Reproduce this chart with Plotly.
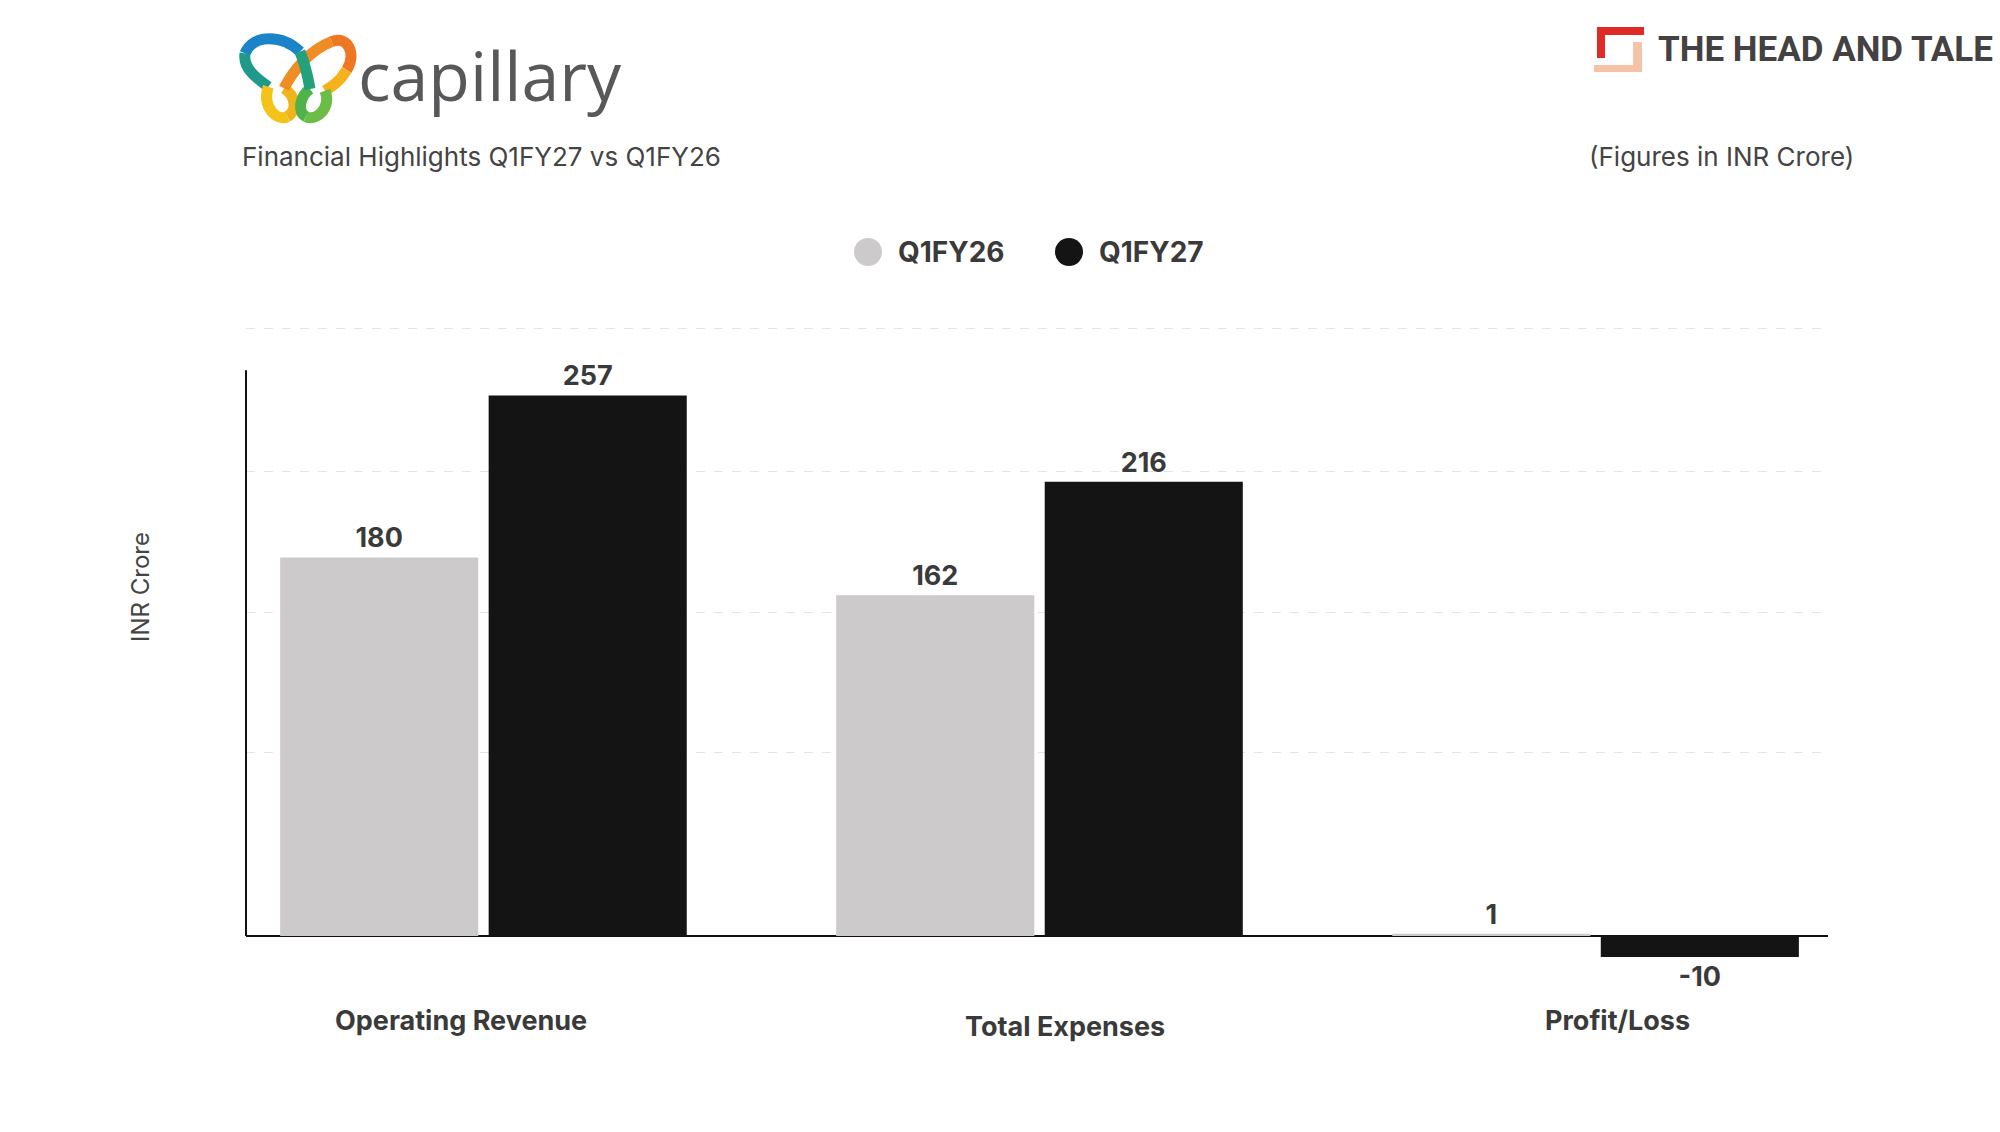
import plotly.graph_objects as go

# Data
categories = ["Operating Revenue", "Total Expenses", "Profit/Loss"]
series_names = ["Q1FY26", "Q1FY27"]
q1fy26 = [180, 162, 1]
q1fy27 = [257, 216, -10]
grid_vals = [87, 154, 221, 289]

bar_colors = ["#cccaca", "#141414"]
text_color = "#3a3a3a"

# Figure geometry (pixels)
W, H = 2000, 1132
ML, MR, MT, MB = 246, 172, 305, 154
PW, PH = W - ML - MR, H - MT - MB


def px_x(v):
    return (v - ML) / PW


def px_y(v):
    return (H - MB - v) / PH


fig = go.Figure()
for name, vals, col in zip(series_names, [q1fy26, q1fy27], bar_colors):
    fig.add_trace(go.Bar(
        x=categories, y=vals, name=name,
        marker=dict(color=col, line=dict(width=0)),
        text=[str(v) for v in vals], texttemplate="%{text}", textposition="outside",
        textfont=dict(family="Inter", size=27, color=text_color, weight=700),
        cliponaxis=False, showlegend=False,
    ))

shapes = []
annotations = []

# y axis line (shorter than plot area, as in the original)
shapes.append(dict(type="line", xref="paper", yref="y", x0=0, x1=0, y0=0, y1=269,
                   line=dict(color="#111111", width=2)))

# legend: circles + labels
for name, col, cx in zip(series_names, bar_colors, [868, 1069]):
    shapes.append(dict(type="circle", xref="paper", yref="paper",
                       xsizemode="pixel", ysizemode="pixel",
                       xanchor=px_x(cx), yanchor=px_y(252),
                       x0=-14, x1=14, y0=-14, y1=14,
                       fillcolor=col, line=dict(width=0)))
    annotations.append(dict(text=name, xref="paper", yref="paper",
                            x=px_x(cx + 28), y=px_y(252), xanchor="left", yanchor="middle",
                            showarrow=False,
                            font=dict(family="Inter", size=28, color=text_color, weight=700)))

# category labels (slightly offset like the original)
for cat, dx, py in zip(categories, [-22, 25, 22], [1020, 1026, 1020]):
    annotations.append(dict(text=cat, xref="x", yref="paper", x=cat, xshift=dx,
                            y=px_y(py), yanchor="middle", showarrow=False,
                            font=dict(family="Inter", size=27, color=text_color, weight=700)))

# y axis title
annotations.append(dict(text="INR Crore", xref="paper", yref="paper",
                        x=px_x(140), y=px_y(587), xanchor="center", yanchor="middle",
                        textangle=-90, showarrow=False,
                        font=dict(family="Inter", size=24, color="#444444")))

# header texts
annotations.append(dict(text="capillary", xref="paper", yref="paper",
                        x=px_x(356), y=px_y(74), xanchor="left", yanchor="middle",
                        showarrow=False,
                        font=dict(family="Open Sans", size=68, color="#58585a")))
annotations.append(dict(text="Financial Highlights Q1FY27 vs Q1FY26", xref="paper", yref="paper",
                        x=px_x(240), y=px_y(157), xanchor="left", yanchor="middle",
                        showarrow=False,
                        font=dict(family="Inter", size=26, color="#444444")))
annotations.append(dict(text="(Figures in INR Crore)", xref="paper", yref="paper",
                        x=px_x(1856), y=px_y(157), xanchor="right", yanchor="middle",
                        showarrow=False,
                        font=dict(family="Inter", size=26, color="#444444")))
annotations.append(dict(text="THE HEAD AND TALE", xref="paper", yref="paper",
                        x=px_x(1656), y=px_y(49), xanchor="left", yanchor="middle",
                        showarrow=False,
                        font=dict(family="Roboto", size=35, color="#444142", weight=700)))


def poly(points):
    return "M " + " L ".join(f"{px_x(x):.5f},{px_y(y):.5f}" for x, y in points) + " Z"


# head and tale brand mark
shapes.append(dict(type="path", xref="paper", yref="paper", line=dict(width=0),
                   fillcolor="#e02a26",
                   path=poly([(1597, 27), (1644, 27), (1644, 35), (1605, 35), (1605, 58), (1597, 58)])))
shapes.append(dict(type="path", xref="paper", yref="paper", line=dict(width=0),
                   fillcolor="#f4c3a8",
                   path=poly([(1633, 42), (1642, 42), (1642, 72), (1594, 72), (1594, 65), (1633, 65)])))


# capillary knot logo, drawn as coloured ribbons (zoom coords /3 + offset)
def z(x, y):
    return f"{px_x(200 + x / 3):.5f},{px_y(20 + y / 3):.5f}"


ribbons = [
    ("#1b84c8", [(300, 95), (250, 45), (160, 40), (135, 100)]),
    ("#1f9a8a", [(135, 100), (128, 145), (170, 175), (205, 200)]),
    ("#f3c318", [(205, 200), (185, 260), (230, 305), (262, 290)]),
    ("#f1b51c", [(262, 290), (295, 272), (285, 225), (252, 205)]),
    ("#ef8d24", [(252, 205), (280, 150), (330, 90), (395, 65)]),
    ("#ee7723", [(395, 65), (445, 45), (470, 105), (440, 150)]),
    ("#f5b21d", [(440, 150), (420, 185), (395, 200), (375, 212)]),
    ("#6cbd45", [(375, 212), (395, 262), (350, 305), (318, 290)]),
    ("#4fb24a", [(318, 290), (290, 275), (300, 228), (330, 207)]),
    ("#23a07c", [(330, 207), (322, 160), (312, 125), (300, 95)]),
]
for col, pts in ribbons:
    (x0, y0), (x1, y1), (x2, y2), (x3, y3) = pts
    shapes.append(dict(type="path", xref="paper", yref="paper",
                       path=f"M {z(x0, y0)} C {z(x1, y1)} {z(x2, y2)} {z(x3, y3)}",
                       line=dict(color=col, width=11)))

fig.update_layout(
    width=W, height=H,
    margin=dict(l=ML, r=MR, t=MT, b=MB),
    plot_bgcolor="white", paper_bgcolor="white",
    barmode="group", bargap=0.25, bargroupgap=0.05,
    showlegend=False,
    font=dict(family="Inter", color=text_color),
    shapes=shapes, annotations=annotations,
)
fig.update_xaxes(range=[-0.427, 2.418], showticklabels=False, showgrid=False,
                 zeroline=False, showline=False, ticks="")
fig.update_yaxes(range=[-20, 300], tickvals=grid_vals, showticklabels=False,
                 gridcolor="#e4e4e4", griddash="dash", gridwidth=1,
                 zeroline=True, zerolinecolor="#111111", zerolinewidth=2,
                 showline=False, ticks="")

fig.write_html("out.html", config={"displayModeBar": False},
               post_script="document.body.style.margin='0';")
